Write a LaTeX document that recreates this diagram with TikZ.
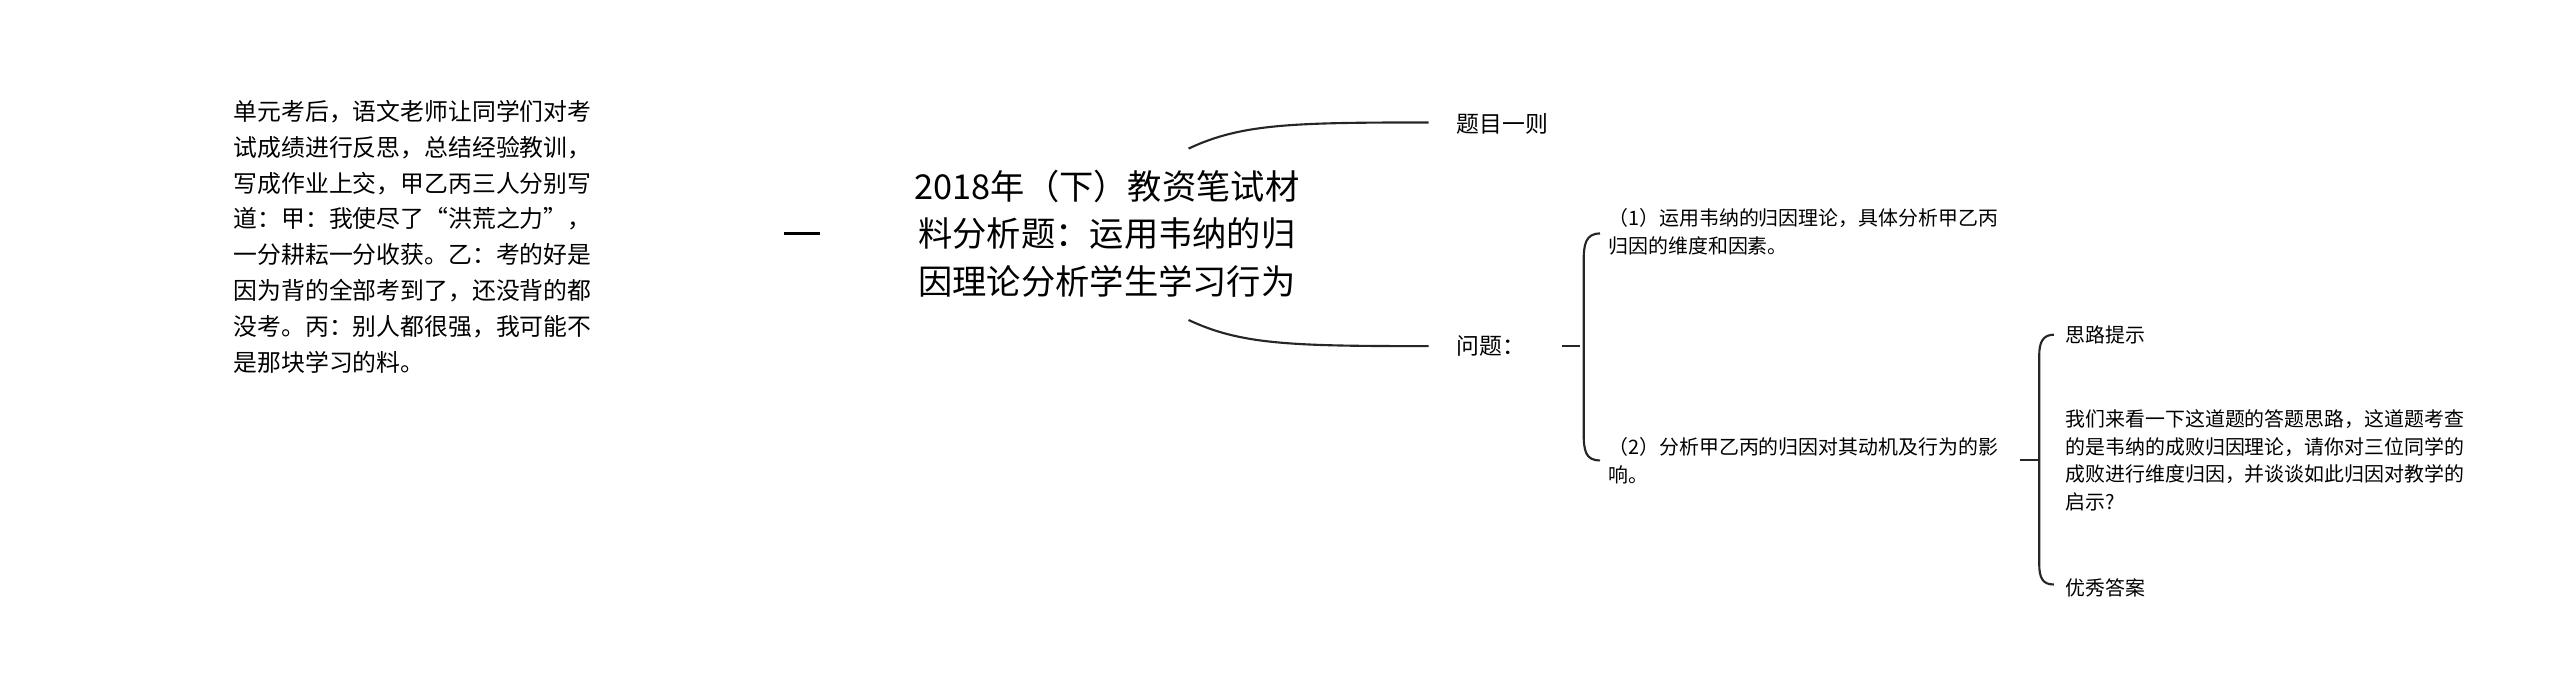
\documentclass[tikz,border=0pt]{standalone}
\usepackage{fontspec}
\newfontfamily\cjk{Noto Sans CJK SC}
\begin{document}
\begin{tikzpicture}[x=1pt,y=-1pt,
  txt/.style={font=\cjk\fontsize{14.6}{22}\selectfont,anchor=north west,inner sep=0,align=left},
  small/.style={font=\cjk\fontsize{12.2}{17}\selectfont,anchor=west,inner sep=0,align=left},
  ln/.style={draw=black!85,line width=1.3pt}]
\useasboundingbox (0,0) rectangle (1568,426);
\node[txt] (story) at (143,61) {单元考后，语文老师让同学们对考\\试成绩进行反思，总结经验教训，\\写成作业上交，甲乙丙三人分别写\\道：甲：我使尽了“洪荒之力”，\\一分耕耘一分收获。乙：考的好是\\因为背的全部考到了，还没背的都\\没考。丙：别人都很强，我可能不\\是那块学习的料。};
\coordinate (d1) at (480,143); \coordinate (d2) at (502,143);
\draw[draw=black,line width=2.2pt] (d1) -- (d2);
\node[font=\cjk\fontsize{21}{29}\selectfont,align=center,inner sep=0] (title) at (678,143) {2018年（下）教资笔试材\\料分析题：运用韦纳的归\\因理论分析学生学习行为};
\node[small,font=\cjk\fontsize{14}{17}\selectfont] (t1) at (892,76) {题目一则};
\node[small,font=\cjk\fontsize{14}{17}\selectfont] (t2) at (892,212) {问题：};
\coordinate (c1) at (728,91); \coordinate (c2) at (728,196);
\draw[ln] (c1) .. controls (760,76) and (790,75) .. (875,75);
\draw[ln] (c2) .. controls (760,211) and (790,212) .. (875,212);
% brace 1
\coordinate (b1) at (957,212);
\draw[ln] (b1) -- (968,212);
\draw[ln] (980,143) .. controls (971,143) and (970,150) .. (970,160) -- (970,265) .. controls (970,276) and (971,282) .. (980,282);
\node[small] (q1) at (985,142) {（1）运用韦纳的归因理论，具体分析甲乙丙\\归因的维度和因素。};
\node[small] (q2) at (985,282) {（2）分析甲乙丙的归因对其动机及行为的影\\响。};
% brace 2
\coordinate (b2) at (1237,282);
\draw[ln] (b2) -- (1248,282);
\draw[ln] (1258,205) .. controls (1251,205) and (1249,210) .. (1249,218) -- (1249,345) .. controls (1249,354) and (1251,358) .. (1258,358);
\node[small] (s1) at (1265,205) {思路提示};
\node[small] (s2) at (1265,282) {我们来看一下这道题的答题思路，这道题考查\\的是韦纳的成败归因理论，请你对三位同学的\\成败进行维度归因，并谈谈如此归因对教学的\\启示?};
\node[small] (s3) at (1265,360) {优秀答案};
\end{tikzpicture}
\end{document}
